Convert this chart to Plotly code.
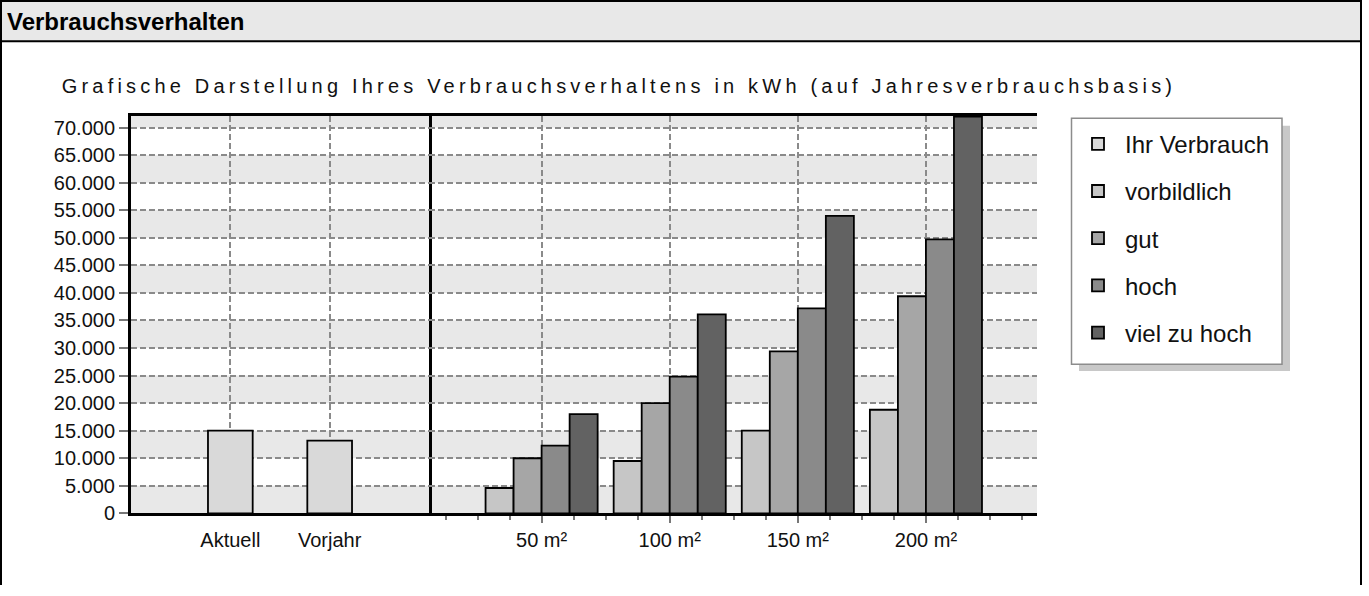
import plotly.graph_objects as go

# ---------------- data ----------------
own_categories = ["Aktuell", "Vorjahr"]
own_values = [15000, 13200]

size_labels = ["50 m²", "100 m²", "150 m²", "200 m²"]
vorbildlich = [4600, 9500, 15000, 18800]
gut = [10000, 20000, 29400, 39400]
hoch = [12300, 24800, 37200, 49700]
viel_zu_hoch = [18000, 36100, 54000, 72000]

series_names = ["vorbildlich", "gut", "hoch", "viel zu hoch"]
series_values = [vorbildlich, gut, hoch, viel_zu_hoch]
series_colors = ["#c6c6c6", "#a6a6a6", "#8a8a8a", "#626262"]
own_color = "#d9d9d9"

title_text = "Grafische Darstellung Ihres Verbrauchsverhaltens in kWh (auf Jahresverbrauchsbasis)"
header_text = "Verbrauchsverhalten"

# ---------------- layout helpers ----------------
W, H = 1369, 596
def px(x):
    return x / W
def py(y):
    return 1 - y / H

Y_MAX = 72140
Y_STEP = 5000
FONT = "Liberation Sans, Arial, sans-serif"
GRID = "#8a8a8a"

fig = go.Figure()

fig.add_trace(go.Bar(
    x=own_categories, y=own_values, name="Ihr Verbrauch",
    marker=dict(color=own_color, line=dict(color="#000", width=1.8)),
    width=0.45, xaxis="x", yaxis="y", legendgroup="g0",
))
size_pos = list(range(len(size_labels)))
for i, (nm, vals, col) in enumerate(zip(series_names, series_values, series_colors)):
    fig.add_trace(go.Bar(
        x=size_pos, y=vals, name=nm,
        marker=dict(color=col, line=dict(color="#000", width=1.8)),
        xaxis="x2", yaxis="y", legendgroup=f"g{i+1}",
    ))

shapes = []
# alternating background bands
v = 0
while v < Y_MAX:
    shapes.append(dict(type="rect", xref="paper", yref="y",
                       x0=px(131), x1=px(1037), y0=v, y1=min(v + Y_STEP, Y_MAX),
                       fillcolor="#e8e8e8", line=dict(width=0), layer="below"))
    v += 2 * Y_STEP
# header bar and outer frame
shapes.append(dict(type="rect", xref="paper", yref="paper",
                   x0=px(1), x1=px(1361), y0=py(42), y1=py(1),
                   fillcolor="#e8e8e8", line=dict(color="#000", width=2), layer="below"))
shapes.append(dict(type="line", xref="paper", yref="paper",
                   x0=px(1), x1=px(1), y0=py(42), y1=0, line=dict(color="#000", width=2)))
shapes.append(dict(type="line", xref="paper", yref="paper",
                   x0=px(1361), x1=px(1361), y0=py(42), y1=0, line=dict(color="#000", width=2)))
# legend shadow and box
shapes.append(dict(type="rect", xref="paper", yref="paper",
                   x0=px(1079), x1=px(1290), y0=py(378), y1=py(128),
                   fillcolor="#c8c8c8", line=dict(width=0)))
shapes.append(dict(type="rect", xref="paper", yref="paper",
                   x0=px(1071.5), x1=px(1282), y0=py(371), y1=py(120.5),
                   fillcolor="white", line=dict(color="#8c8c8c", width=1.5)))

annotations = [
    dict(text=f"<b>{header_text}</b>", xref="paper", yref="paper", x=px(5), y=py(22),
         xanchor="left", yanchor="middle", showarrow=False,
         font=dict(size=24, color="#000", family=FONT)),
    dict(text=title_text, xref="paper", yref="paper", x=px(619), y=py(88),
         xanchor="center", yanchor="middle", showarrow=False,
         font=dict(size=20, color="#111", family=FONT)),
]

fig.update_layout(
    width=W, height=H, autosize=False,
    margin=dict(l=0, r=0, t=0, b=0),
    paper_bgcolor="white", plot_bgcolor="rgba(0,0,0,0)",
    font=dict(family=FONT, size=20, color="#111"),
    separators=",.",
    barmode="group", bargap=0.125, bargroupgap=0,
    shapes=shapes, annotations=annotations,
    showlegend=True,
    legend=dict(x=px(1071), y=py(124), xanchor="left", yanchor="top",
                bgcolor="rgba(0,0,0,0)", borderwidth=0,
                font=dict(size=24, color="#111", family=FONT),
                tracegroupgap=13, itemwidth=44, traceorder="grouped"),
    xaxis=dict(domain=[px(131), px(429)], anchor="y", type="category",
               range=[-1, 2], showline=True, linewidth=3, linecolor="#000", mirror=True,
               ticks="outside", ticklen=7, tickcolor="rgba(0,0,0,0)",
               showgrid=True, gridcolor=GRID, griddash="6px,3px", gridwidth=1.5,
               tickfont=dict(size=20)),
    xaxis2=dict(domain=[px(429), px(1037)], anchor="y",
                range=[-0.879, 3.867], tickmode="array", tickvals=size_pos, ticktext=size_labels,
                showline=True, linewidth=3, linecolor="#000", mirror=True,
                ticks="outside", ticklen=7, tickcolor="#777", tickwidth=1.5,
                minor=dict(dtick=0.25, tick0=0, ticks="outside", ticklen=4,
                           tickcolor="#777", tickwidth=1.5, showgrid=False),
                showgrid=True, gridcolor=GRID, griddash="6px,3px", gridwidth=1.5,
                zeroline=False, tickfont=dict(size=20)),
    yaxis=dict(domain=[py(523), py(118)], anchor="x",
               range=[0, Y_MAX], dtick=Y_STEP, tick0=0, tickformat=",",
               showline=True, linewidth=3, linecolor="#000", mirror=True,
               ticks="outside", ticklen=9, tickcolor="#777", tickwidth=1.5,
               showgrid=True, gridcolor=GRID, griddash="6px,3px", gridwidth=1.5,
               zeroline=False, tickfont=dict(size=20)),
)

post = """
document.body.style.margin = '0';
var gd = document.getElementById('{plot_id}');
gd.querySelectorAll('text.annotation-text').forEach(function (t) {
  if (t.textContent.indexOf('Grafische') === 0) { t.style.letterSpacing = '4.2px'; }
});
"""

fig.write_html("out.html", post_script=post,
               config={"displayModeBar": False, "responsive": False})
